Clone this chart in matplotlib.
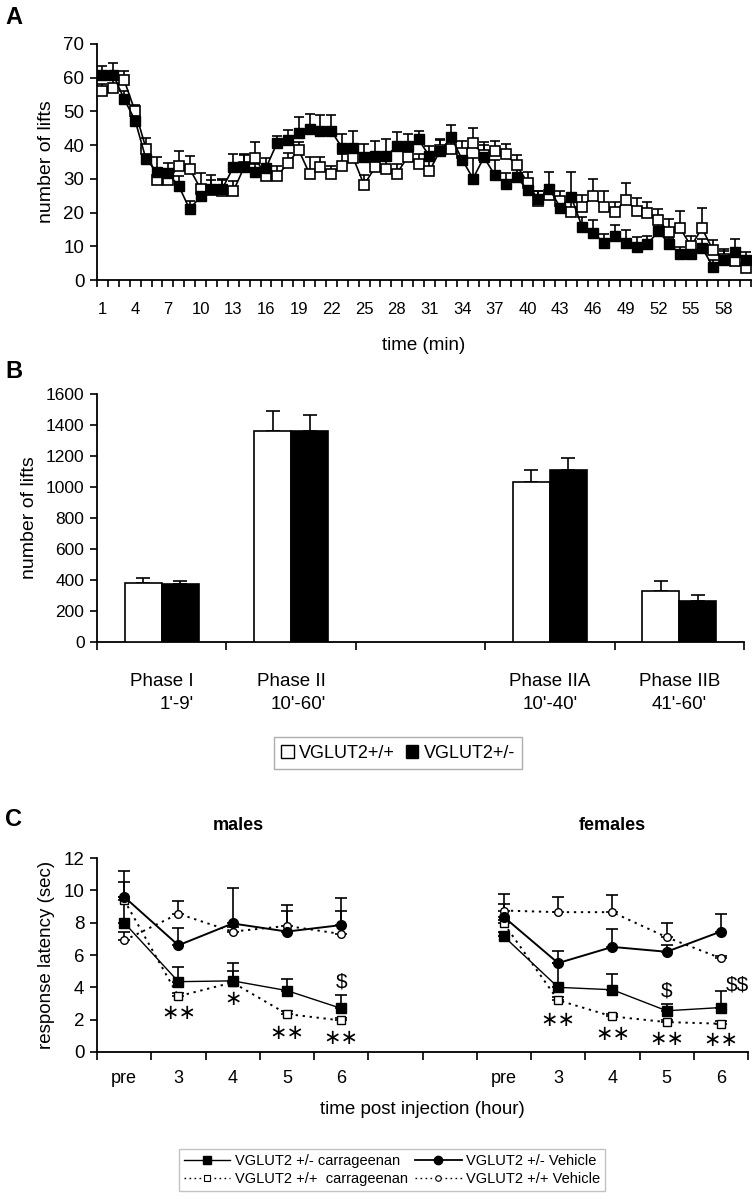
import numpy as np
import matplotlib
matplotlib.use('Agg')
import matplotlib.pyplot as plt
from matplotlib.patches import Patch
from matplotlib.lines import Line2D

REG = ['Liberation Sans', 'DejaVu Sans']
plt.rcParams['font.family'] = REG

# ---- panel A : number of lifts per minute ----
minutes = np.arange(1, 61)
lifts_wt = [56.0, 57.0, 59.2, 50.0, 39.0, 29.6, 29.6, 33.8, 33.0, 27.1,
            26.6, 26.3, 26.3, 33.5, 36.3, 30.7, 30.7, 34.6, 38.6, 31.5,
            33.4, 31.5, 33.8, 36.3, 28.2, 33.4, 32.9, 31.5, 36.5, 34.4,
            32.4, 38.5, 38.9, 37.6, 40.5, 37.0, 38.2, 37.3, 34.0, 28.9,
            23.5, 25.1, 23.5, 20.1, 21.8, 24.8, 21.6, 20.1, 23.8, 20.6,
            19.8, 17.7, 14.2, 15.4, 10.0, 15.4, 8.9, 6.3, 5.7, 3.6]
err_wt = [2.0, 2.5, 2.9, 2.0, 3.2, 3.5, 3.0, 4.5, 3.9, 4.5,
          4.6, 3.5, 3.0, 3.5, 4.5, 3.0, 3.0, 3.0, 2.4, 5.0,
          3.0, 2.3, 3.5, 3.0, 3.0, 3.0, 3.5, 3.0, 3.5, 3.0,
          3.0, 3.0, 3.0, 3.5, 4.7, 3.0, 3.0, 3.0, 3.0, 3.0,
          3.0, 3.0, 3.0, 4.0, 3.5, 5.3, 4.7, 3.0, 5.1, 3.8,
          3.3, 3.5, 4.0, 5.0, 3.0, 5.9, 3.0, 3.0, 3.0, 3.0]
lifts_het = [60.8, 60.8, 53.6, 47.3, 35.8, 32.1, 31.7, 27.9, 21.0, 24.8,
             27.1, 27.1, 33.4, 33.4, 31.9, 33.2, 40.5, 41.4, 43.7, 44.7,
             44.2, 44.2, 39.1, 39.1, 36.4, 36.7, 36.7, 39.6, 39.6, 41.7,
             36.7, 38.2, 42.3, 35.7, 30.1, 36.4, 31.1, 28.6, 30.6, 26.7,
             24.0, 27.1, 21.5, 24.7, 15.8, 14.0, 11.1, 13.0, 11.1, 9.8,
             10.6, 14.5, 10.6, 7.8, 7.8, 9.6, 4.0, 6.0, 8.3, 5.9]
err_het = [2.6, 3.5, 2.5, 2.5, 3.0, 4.5, 3.0, 3.0, 2.5, 3.0,
           2.5, 3.0, 4.0, 4.0, 2.5, 3.0, 2.1, 3.2, 4.5, 4.5,
           4.6, 4.6, 4.3, 5.0, 4.0, 4.5, 5.0, 4.4, 3.7, 2.5,
           3.0, 3.5, 3.8, 3.0, 6.0, 4.4, 4.5, 3.0, 3.5, 3.0,
           2.5, 4.9, 3.0, 7.3, 3.0, 3.8, 2.5, 3.3, 3.6, 3.0,
           2.5, 3.6, 2.0, 2.0, 2.0, 2.5, 2.0, 2.5, 3.9, 2.5]
minute_labels = np.arange(1, 59, 3)

# ---- panel B : summed lifts per phase ----
phases = ["Phase I\n1'-9'", "Phase II\n10'-60'", "", "Phase IIA\n10'-40'", "Phase IIB\n41'-60'"]
phase_wt = [383, 1363, 0, 1034, 331]
phase_wt_err = [30, 125, 0, 78, 60]
phase_het = [374, 1363, 0, 1107, 262]
phase_het_err = [19, 104, 0, 82, 41]

# ---- panel C : response latency ----
hours = ['pre', '3', '4', '5', '6', '', '', 'pre', '3', '4', '5', '6']
male_pos = [0, 1, 2, 3, 4]
female_pos = [7, 8, 9, 10, 11]

m_het_carr = [8.0, 4.35, 4.4, 3.8, 2.7]
m_het_carr_err = [2.5, 0.9, 1.1, 0.7, 0.8]
m_het_veh = [9.6, 6.6, 7.95, 7.45, 7.85]
m_het_veh_err = [1.6, 1.1, 2.2, 1.3, 1.7]
m_wt_carr = [9.4, 3.45, 4.3, 2.35, 1.95]
m_wt_carr_err = [0.2, 0.2, 0.7, 0.2, 0.15]
m_wt_veh = [6.9, 8.55, 7.45, 7.8, 7.3]
m_wt_veh_err = [0.5, 0.8, 0.3, 1.3, 1.4]

f_het_carr = [7.15, 4.0, 3.85, 2.55, 2.75]
f_het_carr_err = [0.3, 1.5, 0.95, 0.4, 1.05]
f_het_veh = [8.35, 5.5, 6.5, 6.2, 7.45]
f_het_veh_err = [1.45, 0.75, 1.1, 0.4, 1.1]
f_wt_carr = [7.95, 3.2, 2.2, 1.85, 1.75]
f_wt_carr_err = [0.2, 0.2, 0.15, 0.15, 0.15]
f_wt_veh = [8.75, 8.65, 8.65, 7.1, 5.8]
f_wt_veh_err = [0.4, 0.95, 1.05, 0.85, 0.15]

# significance marks: (x position, y value, text)
marks = [(1, 2.4, '∗∗'), (2, 3.3, '∗'), (3, 1.15, '∗∗'), (4, 0.85, '∗∗'), (4, 4.35, '$'),
         (8, 2.0, '∗∗'), (9, 1.1, '∗∗'), (10, 0.8, '∗∗'), (11, 0.75, '∗∗'),
         (10, 3.8, '$'), (11.3, 4.15, '$$')]

DOT = (0, (1.2, 2.4))

W, H = 754, 1199
fig = plt.figure(figsize=(W / 100, H / 100), dpi=100)


def frac(left, top, right, bottom):
    return [left / W, 1 - bottom / H, (right - left) / W, (bottom - top) / H]


def clean(ax):
    ax.spines['top'].set_visible(False)
    ax.spines['right'].set_visible(False)
    for s in ['left', 'bottom']:
        ax.spines[s].set_linewidth(1.3)


def upper_err(ax, x, y, e, lw=1.2, cap=4, z=2):
    ax.errorbar(x, y, yerr=[np.zeros(len(e)), e], fmt='none', ecolor='black',
                elinewidth=lw, capsize=cap, capthick=lw, zorder=z)


# ---------------- A ----------------
axA = fig.add_axes(frac(97, 44, 751, 280))
clean(axA)
upper_err(axA, minutes, lifts_wt, err_wt, cap=3.5)
upper_err(axA, minutes, lifts_het, err_het, cap=3.5)
axA.plot(minutes, lifts_wt, '-s', color='black', lw=1.2, ms=6.8,
         mfc='white', mec='black', mew=1.2, zorder=3)
axA.plot(minutes, lifts_het, '-s', color='black', lw=1.2, ms=6.8,
         mfc='black', mec='black', zorder=4)
axA.set_xlim(0.5, 60.5)
axA.set_ylim(0, 70)
axA.set_yticks(np.arange(0, 71, 10))
axA.set_xticks(np.arange(0.5, 61, 1))
axA.set_xticklabels([])
axA.set_xticks(minute_labels, minor=True)
axA.set_xticklabels([str(m) for m in minute_labels], minor=True, fontsize=12)
axA.tick_params(axis='x', which='major', direction='out', length=5, width=1.2)
axA.tick_params(axis='x', which='minor', length=0, pad=16)
axA.tick_params(axis='y', direction='out', length=5, width=1.2, labelsize=13.5, pad=4)
axA.set_ylabel('number of lifts', fontsize=14, labelpad=6)
axA.set_xlabel('time (min)', fontsize=13.5, labelpad=14)

# ---------------- B ----------------
axB = fig.add_axes(frac(97, 394, 744, 642))
clean(axB)
xb = np.arange(len(phases))
bw = 0.286
keep = [i for i in xb if phases[i]]
axB.bar(xb[keep] - bw / 2, np.array(phase_wt)[keep], bw, color='white', edgecolor='black', lw=1.2, zorder=3)
axB.bar(xb[keep] + bw / 2, np.array(phase_het)[keep], bw, color='black', edgecolor='black', lw=1.2, zorder=3)
upper_err(axB, xb[keep] - bw / 2, np.array(phase_wt)[keep], np.array(phase_wt_err)[keep], cap=5)
upper_err(axB, xb[keep] + bw / 2, np.array(phase_het)[keep], np.array(phase_het_err)[keep], cap=5)
axB.set_xlim(-0.5, len(phases) - 0.5)
axB.set_ylim(0, 1600)
axB.set_yticks(np.arange(0, 1601, 200))
axB.set_yticklabels([str(v) for v in range(0, 1601, 200)], fontsize=12.5)
axB.set_xticks(np.arange(-0.5, len(phases), 1))
axB.set_xticklabels([])
axB.set_xticks(xb, minor=True)
axB.set_xticklabels(phases, minor=True, fontsize=13.5, linespacing=1.5)
for i, t in enumerate(axB.get_xticklabels(minor=True)):
    if i < 2:
        t.set_multialignment('right')
axB.tick_params(axis='x', which='major', direction='out', length=6, width=1.2)
axB.tick_params(axis='x', which='minor', length=0, pad=22)
axB.tick_params(axis='y', direction='out', length=5, width=1.2, pad=4)
axB.set_ylabel('number of lifts', fontsize=14, labelpad=6)

hB = [Patch(facecolor='white', edgecolor='black', lw=1.0), Patch(facecolor='black', edgecolor='black')]
fig.legend(hB, ['VGLUT2+/+', 'VGLUT2+/-'], loc='center', bbox_to_anchor=(398 / W, 1 - 753 / H),
           ncol=2, fontsize=13, frameon=True, fancybox=False, edgecolor='0.6',
           handlelength=0.7, handleheight=0.7, handletextpad=0.3, columnspacing=0.6,
           borderpad=0.4)

# ---------------- C ----------------
axC = fig.add_axes(frac(97, 858, 748, 1052))
clean(axC)
for pos, hc, hce, hv, hve, wc, wce, wv, wve in [
        (male_pos, m_het_carr, m_het_carr_err, m_het_veh, m_het_veh_err,
         m_wt_carr, m_wt_carr_err, m_wt_veh, m_wt_veh_err),
        (female_pos, f_het_carr, f_het_carr_err, f_het_veh, f_het_veh_err,
         f_wt_carr, f_wt_carr_err, f_wt_veh, f_wt_veh_err)]:
    for y, e in [(hc, hce), (hv, hve), (wc, wce), (wv, wve)]:
        upper_err(axC, pos, y, e, lw=1.2, cap=4)
    axC.plot(pos, wc, marker='s', ls=DOT, color='black', lw=1.4, ms=5.5, mfc='white', mew=1.0, zorder=3)
    axC.plot(pos, wv, marker='o', ls=DOT, color='black', lw=1.4, ms=5.5, mfc='white', mew=1.0, zorder=3)
    axC.plot(pos, hv, '-o', color='black', lw=1.4, ms=7, mfc='black', zorder=4)
    axC.plot(pos, hc, '-s', color='black', lw=1.0, ms=7, mfc='black', zorder=4)

for x, y, s in marks:
    if s.startswith('$'):
        axC.text(x, y, s, ha='center', va='center', fontsize=15, parse_math=False)
    else:
        axC.text(x, y, s, ha='center', va='center', fontsize=15, family=['DejaVu Sans'])

axC.set_xlim(-0.5, len(hours) - 0.5)
axC.set_ylim(0, 12)
axC.set_yticks(np.arange(0, 13, 2))
axC.set_xticks(np.arange(-0.5, len(hours), 1))
axC.set_xticklabels([])
axC.set_xticks(np.arange(len(hours)), minor=True)
axC.set_xticklabels(hours, minor=True, fontsize=13)
axC.tick_params(axis='x', which='major', direction='out', length=6, width=1.2)
axC.tick_params(axis='x', which='minor', length=0, pad=13)
axC.tick_params(axis='y', direction='out', length=5, width=1.2, labelsize=13.5, pad=4)
axC.set_ylabel('response latency (sec)', fontsize=13.5, labelpad=6)
axC.set_xlabel('time post injection (hour)', fontsize=13.5, labelpad=10)
axC.text(2.1, 14.0, 'males', ha='center', va='center', fontsize=13, fontweight='bold')
axC.text(9.0, 14.0, 'females', ha='center', va='center', fontsize=13, fontweight='bold')

hC = [Line2D([], [], color='black', lw=1.0, marker='s', ms=6, mfc='black'),
      Line2D([], [], color='black', lw=1.0, ls=DOT, marker='s', ms=4, mfc='white', mew=0.8),
      Line2D([], [], color='black', lw=1.3, marker='o', ms=6, mfc='black'),
      Line2D([], [], color='black', lw=1.0, ls=DOT, marker='o', ms=4, mfc='white', mew=0.8)]
fig.legend(hC, ['VGLUT2 +/- carrageenan', 'VGLUT2 +/+  carrageenan',
                'VGLUT2 +/- Vehicle', 'VGLUT2 +/+ Vehicle'],
           loc='center', bbox_to_anchor=(392 / W, 1 - 1170 / H), ncol=2, fontsize=10.5,
           frameon=True, fancybox=False, edgecolor='0.7', handlelength=3.2,
           handletextpad=0.3, columnspacing=0.5, labelspacing=0.3, borderpad=0.35)

# panel letters
for letter, ypix in [('A', 18), ('B', 372), ('C', 820)]:
    fig.text(5 / W, 1 - ypix / H, letter, fontsize=17, fontweight='bold', va='center', ha='left')

fig.savefig('out.png', dpi=100)
